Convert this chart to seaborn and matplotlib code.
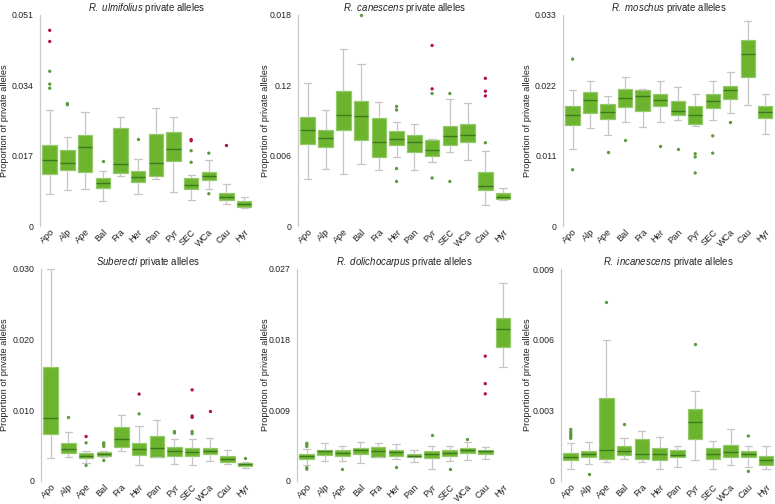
# private_alleles_boxplots.py
# Box plots of the proportion of private alleles per population, one panel per taxon.

import pandas as pd
import matplotlib
matplotlib.use("Agg")
import matplotlib.pyplot as plt
import seaborn as sns

POPS = ["Apo", "Alp", "Ape", "Bal", "Fra", "Her", "Pan", "Pyr", "SEC", "WCa", "Cau", "Hyr"]

# five-number summaries, one tuple per population in POPS order:
# (low whisker, Q1, median, Q3, high whisker)
ULMIFOLIUS = [
    (0.0078, 0.0125, 0.0159, 0.0195, 0.0281),
    (0.0086, 0.0136, 0.0153, 0.0183, 0.0216),
    (0.0089, 0.0130, 0.0191, 0.0220, 0.0275),
    (0.0061, 0.0093, 0.0105, 0.0115, 0.0132),
    (0.0121, 0.0127, 0.0150, 0.0236, 0.0263),
    (0.0078, 0.0106, 0.0119, 0.0133, 0.0161),
    (0.0114, 0.0122, 0.0153, 0.0222, 0.0285),
    (0.0082, 0.0158, 0.0186, 0.0228, 0.0263),
    (0.0062, 0.0090, 0.0099, 0.0115, 0.0124),
    (0.0089, 0.0111, 0.0120, 0.0130, 0.0159),
    (0.0053, 0.0063, 0.0071, 0.0080, 0.0102),
    (0.0044, 0.0047, 0.0053, 0.0060, 0.0070),
]
ULMIFOLIUS_GREEN = [("Apo", 0.0374), ("Apo", 0.0343), ("Apo", 0.0333), ("Alp", 0.0296),
                    ("Alp", 0.0293), ("Bal", 0.0158), ("Her", 0.0210), ("SEC", 0.0182),
                    ("SEC", 0.0154), ("WCa", 0.0176), ("WCa", 0.0078)]
ULMIFOLIUS_RED = [("Apo", 0.0473), ("Apo", 0.0446), ("SEC", 0.0209), ("SEC", 0.0206),
                  ("Cau", 0.0195)]

CANESCENS = [
    (0.0040, 0.0070, 0.0082, 0.0093, 0.0122),
    (0.0049, 0.0067, 0.0075, 0.0082, 0.0099),
    (0.0044, 0.0082, 0.0095, 0.0115, 0.0151),
    (0.0053, 0.0073, 0.0094, 0.0107, 0.0138),
    (0.0048, 0.0059, 0.0072, 0.0092, 0.0106),
    (0.0059, 0.0069, 0.0074, 0.0081, 0.0089),
    (0.0048, 0.0063, 0.0072, 0.0078, 0.0087),
    (0.0055, 0.0060, 0.0065, 0.0073, 0.0074),
    (0.0063, 0.0069, 0.0077, 0.0085, 0.0108),
    (0.0056, 0.0072, 0.0078, 0.0087, 0.0105),
    (0.0018, 0.0031, 0.0034, 0.0046, 0.0064),
    (0.0022, 0.0023, 0.0025, 0.0028, 0.0032),
]
CANESCENS_GREEN = [("Bal", 0.0180), ("Her", 0.0102), ("Her", 0.0099), ("Her", 0.0049),
                   ("Her", 0.0038), ("Pyr", 0.0113), ("Pyr", 0.0041), ("SEC", 0.0113),
                   ("SEC", 0.0038), ("Cau", 0.0071)]
CANESCENS_RED = [("Pyr", 0.0154), ("Pyr", 0.0117), ("Cau", 0.0126), ("Cau", 0.0115),
                 ("Cau", 0.0111)]

MOSCHUS = [
    (0.0120, 0.0158, 0.0174, 0.0188, 0.0213),
    (0.0154, 0.0177, 0.0197, 0.0209, 0.0226),
    (0.0142, 0.0168, 0.0178, 0.0191, 0.0203),
    (0.0162, 0.0186, 0.0200, 0.0214, 0.0233),
    (0.0155, 0.0180, 0.0204, 0.0213, 0.0214),
    (0.0162, 0.0187, 0.0197, 0.0206, 0.0226),
    (0.0166, 0.0173, 0.0180, 0.0195, 0.0217),
    (0.0156, 0.0160, 0.0174, 0.0188, 0.0207),
    (0.0166, 0.0184, 0.0196, 0.0206, 0.0227),
    (0.0177, 0.0199, 0.0213, 0.0219, 0.0241),
    (0.0189, 0.0233, 0.0269, 0.0291, 0.0321),
    (0.0144, 0.0169, 0.0178, 0.0187, 0.0206),
]
MOSCHUS_GREEN = [("Apo", 0.0261), ("Apo", 0.0088), ("Ape", 0.0116), ("Bal", 0.0135),
                 ("Her", 0.0125), ("Pan", 0.0121), ("Pyr", 0.0113), ("Pyr", 0.0108),
                 ("Pyr", 0.0083), ("SEC", 0.0141), ("SEC", 0.0114), ("WCa", 0.0163)]
MOSCHUS_RED = []

SUBERECTI = [
    (0.0032, 0.0066, 0.0089, 0.0161, 0.0300),
    (0.0034, 0.0040, 0.0045, 0.0054, 0.0070),
    (0.0026, 0.0033, 0.0036, 0.0039, 0.0042),
    (0.0034, 0.0035, 0.0038, 0.0041, 0.0042),
    (0.0043, 0.0048, 0.0060, 0.0076, 0.0093),
    (0.0023, 0.0037, 0.0045, 0.0054, 0.0078),
    (0.0034, 0.0034, 0.0047, 0.0063, 0.0087),
    (0.0024, 0.0036, 0.0042, 0.0048, 0.0059),
    (0.0022, 0.0036, 0.0041, 0.0047, 0.0060),
    (0.0029, 0.0038, 0.0042, 0.0047, 0.0061),
    (0.0024, 0.0027, 0.0031, 0.0036, 0.0044),
    (0.0019, 0.0021, 0.0024, 0.0026, 0.0027),
]
SUBERECTI_GREEN = [("Alp", 0.0091), ("Ape", 0.0054), ("Ape", 0.0022), ("Bal", 0.0054),
                   ("Bal", 0.0052), ("Bal", 0.0049), ("Bal", 0.0029), ("Her", 0.0095),
                   ("Pyr", 0.0070), ("Pyr", 0.0068), ("SEC", 0.0070), ("SEC", 0.0067),
                   ("Hyr", 0.0033)]
SUBERECTI_RED = [("Ape", 0.0063), ("Her", 0.0123), ("SEC", 0.0129), ("SEC", 0.0092),
                 ("SEC", 0.0090), ("WCa", 0.0099)]

DOLICHOCARPUS = [
    (0.0020, 0.0028, 0.0032, 0.0034, 0.0041),
    (0.0026, 0.0033, 0.0038, 0.0040, 0.0048),
    (0.0025, 0.0032, 0.0036, 0.0039, 0.0044),
    (0.0023, 0.0035, 0.0039, 0.0042, 0.0050),
    (0.0031, 0.0031, 0.0038, 0.0043, 0.0048),
    (0.0028, 0.0032, 0.0037, 0.0040, 0.0047),
    (0.0024, 0.0030, 0.0032, 0.0035, 0.0039),
    (0.0015, 0.0029, 0.0034, 0.0038, 0.0044),
    (0.0025, 0.0032, 0.0036, 0.0039, 0.0044),
    (0.0027, 0.0036, 0.0039, 0.0042, 0.0050),
    (0.0028, 0.0034, 0.0038, 0.0040, 0.0043),
    (0.0145, 0.0171, 0.0194, 0.0208, 0.0252),
]
DOLICHOCARPUS_GREEN = [("Apo", 0.0048), ("Apo", 0.0046), ("Apo", 0.0044), ("Apo", 0.0017),
                       ("Apo", 0.0015), ("Ape", 0.0015), ("Her", 0.0018), ("Pyr", 0.0059),
                       ("SEC", 0.0015), ("WCa", 0.0054)]
DOLICHOCARPUS_RED = [("Cau", 0.0159), ("Cau", 0.0124), ("Cau", 0.0111)]

INCANESCENS = [
    (0.00050, 0.00090, 0.00101, 0.00120, 0.00160),
    (0.00073, 0.00100, 0.00114, 0.00128, 0.00167),
    (0.00080, 0.00095, 0.00131, 0.00353, 0.00600),
    (0.00093, 0.00110, 0.00127, 0.00148, 0.00181),
    (0.00080, 0.00095, 0.00115, 0.00179, 0.00211),
    (0.00050, 0.00091, 0.00113, 0.00140, 0.00188),
    (0.00058, 0.00101, 0.00111, 0.00132, 0.00150),
    (0.00091, 0.00177, 0.00249, 0.00305, 0.00380),
    (0.00050, 0.00093, 0.00113, 0.00140, 0.00168),
    (0.00070, 0.00100, 0.00122, 0.00151, 0.00219),
    (0.00060, 0.00100, 0.00113, 0.00128, 0.00150),
    (0.00050, 0.00070, 0.00088, 0.00108, 0.00150),
]
INCANESCENS_GREEN = [("Apo", 0.00219), ("Apo", 0.00209), ("Apo", 0.00202), ("Apo", 0.00195),
                     ("Apo", 0.00188), ("Apo", 0.00181), ("Alp", 0.00030), ("Ape", 0.00762),
                     ("Bal", 0.00241), ("Pyr", 0.00580), ("Cau", 0.00191), ("Cau", 0.00041)]
INCANESCENS_RED = []

# (italic name, y max, y tick labels, stats, green outliers, red outliers,
#  axes rect in px (left, right, top, bottom), y label x in px)
PANELS = [
    ("R.\\ ulmifolius", 0.051, ["0", "0.017", "0.034", "0.051"],
     ULMIFOLIUS, ULMIFOLIUS_GREEN, ULMIFOLIUS_RED, (40, 253, 15, 226), 5),
    ("R.\\ canescens", 0.018, ["0", "0.006", "0.12", "0.018"],
     CANESCENS, CANESCENS_GREEN, CANESCENS_RED, (298, 512, 15, 226), 266),
    ("R.\\ moschus", 0.033, ["0", "0.011", "0.022", "0.033"],
     MOSCHUS, MOSCHUS_GREEN, MOSCHUS_RED, (563, 774, 15, 226), 527),
    ("Suberecti", 0.030, ["0", "0.010", "0.020", "0.030"],
     SUBERECTI, SUBERECTI_GREEN, SUBERECTI_RED, (41, 254, 269, 481), 5),
    ("R.\\ dolichocarpus", 0.027, ["0", "0.009", "0.018", "0.027"],
     DOLICHOCARPUS, DOLICHOCARPUS_GREEN, DOLICHOCARPUS_RED, (297, 512, 269, 481), 266),
    ("R.\\ incanescens", 0.009, ["0", "0.003", "0.006", "0.009"],
     INCANESCENS, INCANESCENS_GREEN, INCANESCENS_RED, (561, 775, 269, 481), 527),
]

BOX_FILL = "#6cb42e"
BOX_EDGE = "#94c96a"
MEDIAN_COLOR = "#3b7a1c"
WHISKER_COLOR = "#c6c6c6"
DOT_GREEN = "#5e9a3c"
DOT_RED = "#b3143c"
TEXT_COLOR = "#222222"

W, H = 775, 504


def summary_frame(stats):
    """Long-form table: each population gets its five summary values."""
    rows = []
    for pop, five in zip(POPS, stats):
        for v in five:
            rows.append((pop, v))
    return pd.DataFrame(rows, columns=["pop", "value"])


def outlier_frame(green, red):
    rows = [(p, v, "normal") for p, v in green] + [(p, v, "extreme") for p, v in red]
    return pd.DataFrame(rows, columns=["pop", "value", "kind"])


def draw_panel(fig, name, ymax, ticklabels, stats, green, red, rect, label_x):
    x0, x1, y0, y1 = rect
    ax = fig.add_axes([x0 / W, 1 - y1 / H, (x1 - x0) / W, (y1 - y0) / H])

    sns.boxplot(data=summary_frame(stats), x="pop", y="value", order=POPS,
                whis=(0, 100), width=0.82, saturation=1, color=BOX_FILL,
                linecolor=BOX_EDGE, linewidth=0.9, showfliers=False,
                medianprops=dict(color=MEDIAN_COLOR, linewidth=1.0),
                whiskerprops=dict(color=WHISKER_COLOR, linewidth=0.9),
                capprops=dict(color=WHISKER_COLOR, linewidth=0.9),
                ax=ax)

    out = outlier_frame(green, red)
    if not out.empty:
        sns.stripplot(data=out, x="pop", y="value", hue="kind", order=POPS,
                      palette={"normal": DOT_GREEN, "extreme": DOT_RED},
                      jitter=False, size=2.4, linewidth=0, legend=False, ax=ax)

    ax.set_xlim(-0.55, 11.5)
    ax.set_ylim(0, ymax)
    ax.set_yticks([0, ymax / 3, 2 * ymax / 3, ymax])
    ax.set_yticklabels(ticklabels)
    ax.set_xticks(range(len(POPS)))
    ax.set_xticklabels(POPS, rotation=45, ha="right", rotation_mode="anchor")
    ax.tick_params(axis="y", length=3, width=0.8, color="#bbbbbb", labelsize=6.3,
                   labelcolor=TEXT_COLOR, pad=1.5)
    ax.tick_params(axis="x", length=0, labelsize=6.6, labelcolor=TEXT_COLOR, pad=1)
    ax.set_xlabel("")
    ax.set_ylabel("Proportion of private alleles", fontsize=6.7,
                  color=TEXT_COLOR, va="center")
    ax.yaxis.set_label_coords((label_x - x0) / (x1 - x0), 0.5)
    ax.set_title(rf"$\mathit{{{name}}}$ private alleles", fontsize=6.9,
                 color=TEXT_COLOR, pad=3)

    for side in ["top", "right", "bottom"]:
        ax.spines[side].set_visible(False)
    ax.spines["left"].set_color("#c8c8c8")
    ax.spines["left"].set_linewidth(0.9)
    for coll in ax.collections:
        coll.set_clip_on(False)
    return ax


if __name__ == "__main__":
    sns.set_style("white")
    plt.rcParams["font.family"] = ["Liberation Sans", "DejaVu Sans"]
    plt.rcParams["mathtext.fontset"] = "custom"
    plt.rcParams["mathtext.it"] = "Liberation Sans:italic"
    plt.rcParams["mathtext.rm"] = "Liberation Sans"

    fig = plt.figure(figsize=(W / 100, H / 100), dpi=100)
    for panel in PANELS:
        draw_panel(fig, *panel)
    fig.savefig("out.png", dpi=100)
